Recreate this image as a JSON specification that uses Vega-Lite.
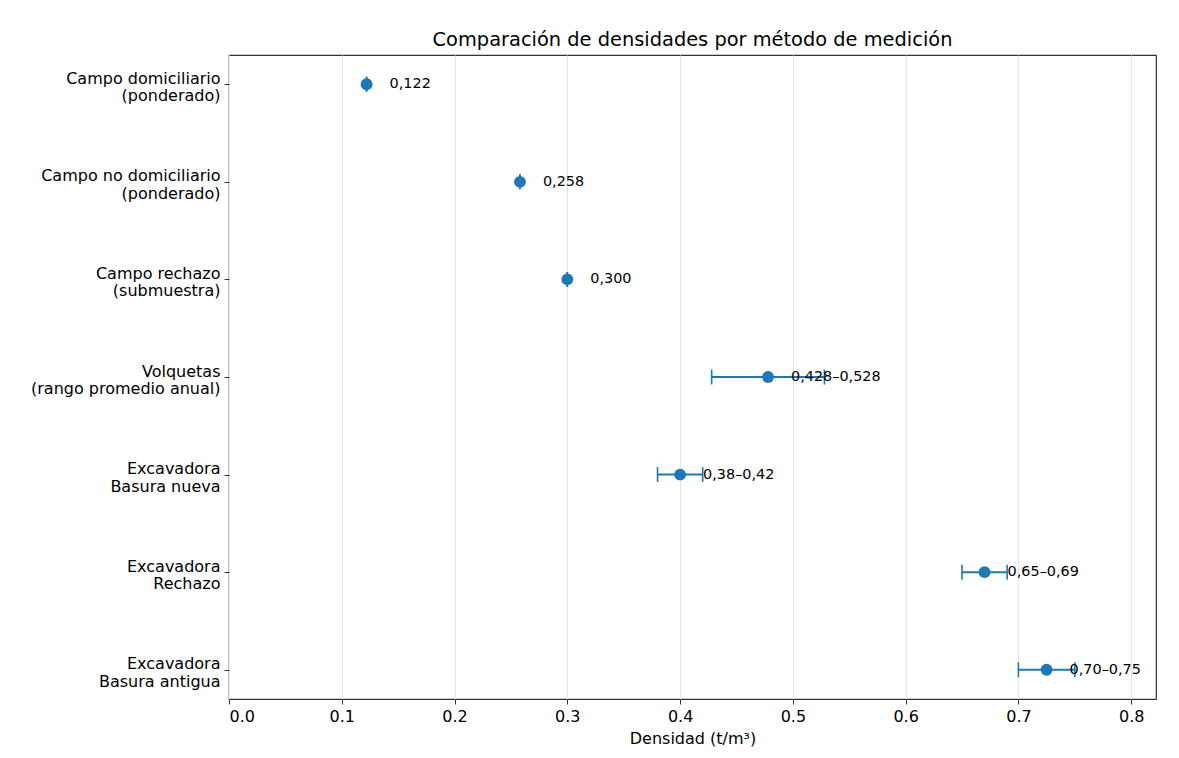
{
  "$schema": "https://vega.github.io/schema/vega-lite/v6.json",
  "width": 927,
  "height": 644,
  "autosize": {"type": "none"},
  "padding": {"left": 229, "top": 55, "right": 23, "bottom": 59},
  "background": "white",
  "config": {
    "font": "DejaVu Sans",
    "view": {"stroke": "#333333", "strokeWidth": 1.2}
  },
  "title": {
    "text": "Comparación de densidades por método de medición",
    "fontSize": 19.4,
    "fontWeight": "normal",
    "font": "DejaVu Sans",
    "color": "#000000",
    "offset": 5
  },
  "data": {
    "values": [
      {"metodo": "Campo domiciliario\n(ponderado)", "val": 0.122, "lo": 0.122, "hi": 0.122, "label": "0,122"},
      {"metodo": "Campo no domiciliario\n(ponderado)", "val": 0.258, "lo": 0.258, "hi": 0.258, "label": "0,258"},
      {"metodo": "Campo rechazo\n(submuestra)", "val": 0.300, "lo": 0.300, "hi": 0.300, "label": "0,300"},
      {"metodo": "Volquetas\n(rango promedio anual)", "val": 0.478, "lo": 0.428, "hi": 0.528, "label": "0,428–0,528"},
      {"metodo": "Excavadora\nBasura nueva", "val": 0.40, "lo": 0.38, "hi": 0.42, "label": "0,38–0,42"},
      {"metodo": "Excavadora\nRechazo", "val": 0.67, "lo": 0.65, "hi": 0.69, "label": "0,65–0,69"},
      {"metodo": "Excavadora\nBasura antigua", "val": 0.725, "lo": 0.70, "hi": 0.75, "label": "0,70–0,75"}
    ]
  },
  "encoding": {
    "y": {
      "field": "metodo",
      "type": "nominal",
      "sort": null,
      "scale": {"type": "point", "padding": 0.3},
      "axis": {
        "title": null,
        "domain": false,
        "grid": false,
        "ticks": true,
        "tickSize": 5,
        "tickColor": "#333333",
        "labelFontSize": 16,
        "labelColor": "#000000",
        "labelPadding": 4,
        "labelLimit": 300,
        "labelLineHeight": 17.5,
        "labelOffset": -6,
        "labelExpr": "split(datum.label, '\\n')"
      }
    }
  },
  "layer": [
    {
      "mark": {"type": "rule", "color": "#1f77b4", "strokeWidth": 2},
      "encoding": {
        "x": {
          "field": "lo",
          "type": "quantitative",
          "scale": {"domain": [0, 0.822], "nice": false, "zero": false},
          "axis": {
            "title": "Densidad (t/m³)",
            "titleFontSize": 16,
            "titleFontWeight": "normal",
            "titleColor": "#000000",
            "titlePadding": 6,
            "values": [0, 0.1, 0.2, 0.3, 0.4, 0.5, 0.6, 0.7, 0.8],
            "format": ".1f",
            "labelFontSize": 16,
            "labelColor": "#000000",
            "labelPadding": 4,
            "tickSize": 5,
            "tickColor": "#333333",
            "domain": false,
            "grid": true,
            "gridColor": "#e6e6e6",
            "gridWidth": 1
          }
        },
        "x2": {"field": "hi"}
      }
    },
    {
      "mark": {"type": "tick", "orient": "vertical", "size": 15, "thickness": 1.6, "color": "#1f77b4", "opacity": 1},
      "encoding": {"x": {"field": "lo", "type": "quantitative"}}
    },
    {
      "mark": {"type": "tick", "orient": "vertical", "size": 15, "thickness": 1.6, "color": "#1f77b4", "opacity": 1},
      "encoding": {"x": {"field": "hi", "type": "quantitative"}}
    },
    {
      "mark": {"type": "circle", "size": 140, "color": "#1f77b4", "opacity": 1},
      "encoding": {"x": {"field": "val", "type": "quantitative"}}
    },
    {
      "mark": {"type": "text", "align": "left", "baseline": "middle", "dx": 23, "fontSize": 14.4, "color": "#000000"},
      "encoding": {
        "x": {"field": "val", "type": "quantitative"},
        "text": {"field": "label"}
      }
    }
  ]
}
